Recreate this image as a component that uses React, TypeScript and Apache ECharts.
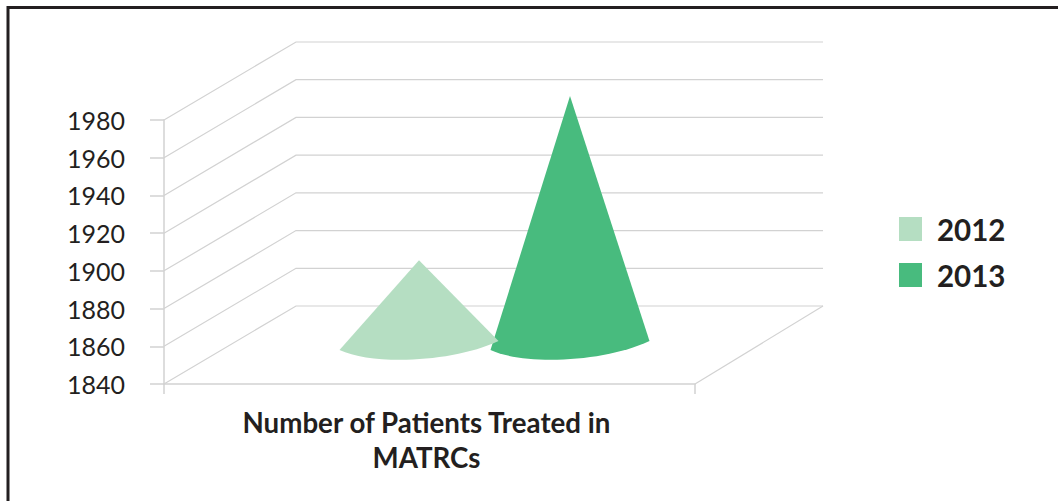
import React, { useEffect, useRef } from "react";
import * as echarts from "echarts";

const categories = ["Number of Patients Treated in\nMATRCs"];
const seriesNames = ["2012", "2013"];
const values2012 = [1885];
const values2013 = [1972];
const tickValues = [1840, 1860, 1880, 1900, 1920, 1940, 1960, 1980];
const colors = ["#B5DEC2", "#48BB7E"];

const FONT = "Lato";
const TEXT = "#231F20";
const LINE = "#D2D2D2";
const DEPTH_X = 132;
const DEPTH_Y = -78;
const HALF_BAND = 75.5;

function wallItem(params: any, api: any) {
  const v = api.value(1);
  const y = api.coord([0, v])[1];
  const sys = params.coordSys;
  const x0 = sys.x;
  const x1 = sys.x + sys.width;
  const lineStyle = { stroke: LINE, fill: "none", lineWidth: 1.2 };
  const children: any[] = [
    {
      type: "polyline",
      shape: { points: [[x0, y], [x0 + DEPTH_X, y + DEPTH_Y], [x1 + DEPTH_X - 4, y + DEPTH_Y]] },
      style: lineStyle,
    },
  ];
  if (v === tickValues[0]) {
    children.push({
      type: "line",
      shape: { x1, y1: y, x2: x1 + DEPTH_X - 4, y2: y + DEPTH_Y },
      style: lineStyle,
    });
  }
  return { type: "group", children };
}

function coneItem(side: number, color: string) {
  return (params: any, api: any) => {
    const apexCoord = api.coord([api.value(0), api.value(1)]);
    const baseCoord = api.coord([api.value(0), tickValues[0]]);
    const cx = apexCoord[0] + DEPTH_X / 2 + side * HALF_BAND - 1;
    const by = baseCoord[1] + DEPTH_Y / 2;
    const ay = apexCoord[1] + DEPTH_Y / 2;
    const d =
      `M ${cx} ${ay} ` +
      `L ${cx + 79.5} ${by - 4} ` +
      `C ${cx + 35} ${by + 17} ${cx - 45} ${by + 21} ${cx - 79.5} ${by + 5} Z`;
    return { type: "path", shape: { pathData: d }, style: { fill: color, stroke: "none" } };
  };
}

export default function App() {
  const ref = useRef<HTMLDivElement>(null);
  useEffect(() => {
    const chart = echarts.init(ref.current!, null, { renderer: "svg" });
    chart.setOption({
      animation: false,
      backgroundColor: "#FFFFFF",
      grid: { left: 164, top: 120, width: 531, height: 264, containLabel: false },
      legend: {
        left: 894,
        top: 209,
        orient: "vertical",
        data: seriesNames,
        icon: "rect",
        itemWidth: 23,
        itemHeight: 24,
        itemGap: 16,
        selectedMode: false,
        textStyle: { fontFamily: FONT, fontSize: 29.5, fontWeight: "bold", color: TEXT, padding: [0, 0, 0, 10] },
      },
      xAxis: {
        type: "category",
        data: categories,
        boundaryGap: true,
        axisLine: { show: true, lineStyle: { color: LINE, width: 1.5 } },
        axisTick: { show: true, length: 10, lineStyle: { color: LINE, width: 1.5 } },
        axisLabel: {
          interval: 0,
          margin: 21,
          fontFamily: FONT,
          fontSize: 27.7,
          fontWeight: "bold",
          color: TEXT,
          lineHeight: 35,
          padding: [0, 6, 0, 0],
        },
      },
      yAxis: {
        type: "value",
        min: tickValues[0],
        max: tickValues[tickValues.length - 1],
        interval: 20,
        splitLine: { show: false },
        axisLine: { show: true, lineStyle: { color: LINE, width: 1.5 } },
        axisTick: { show: true, length: 14, lineStyle: { color: LINE, width: 1.5 } },
        axisLabel: {
          margin: 39,
          fontFamily: FONT,
          fontSize: 25,
          color: TEXT,
          formatter: (v: number) => String(v),
        },
      },
      graphic: [
        { type: "line", shape: { x1: 8, y1: 7.5, x2: 1058, y2: 7.5 }, style: { stroke: TEXT, lineWidth: 3 } },
        { type: "line", shape: { x1: 8, y1: 6, x2: 8, y2: 501 }, style: { stroke: TEXT, lineWidth: 3 } },
      ],
      series: [
        {
          type: "custom",
          name: "walls",
          silent: true,
          z: 1,
          data: tickValues.map((v) => [0, v]),
          renderItem: wallItem,
          encode: { x: 0, y: 1 },
        },
        {
          type: "custom",
          name: seriesNames[0],
          z: 4,
          itemStyle: { color: colors[0] },
          data: values2012.map((v, i) => [i, v]),
          renderItem: coneItem(-1, colors[0]),
          encode: { x: 0, y: 1 },
        },
        {
          type: "custom",
          name: seriesNames[1],
          z: 3,
          itemStyle: { color: colors[1] },
          data: values2013.map((v, i) => [i, v]),
          renderItem: coneItem(1, colors[1]),
          encode: { x: 0, y: 1 },
        },
      ],
    });
    return () => chart.dispose();
  }, []);
  return <div ref={ref} style={{ position: "fixed", left: 0, top: 0, width: 1058, height: 501 }} />;
}
